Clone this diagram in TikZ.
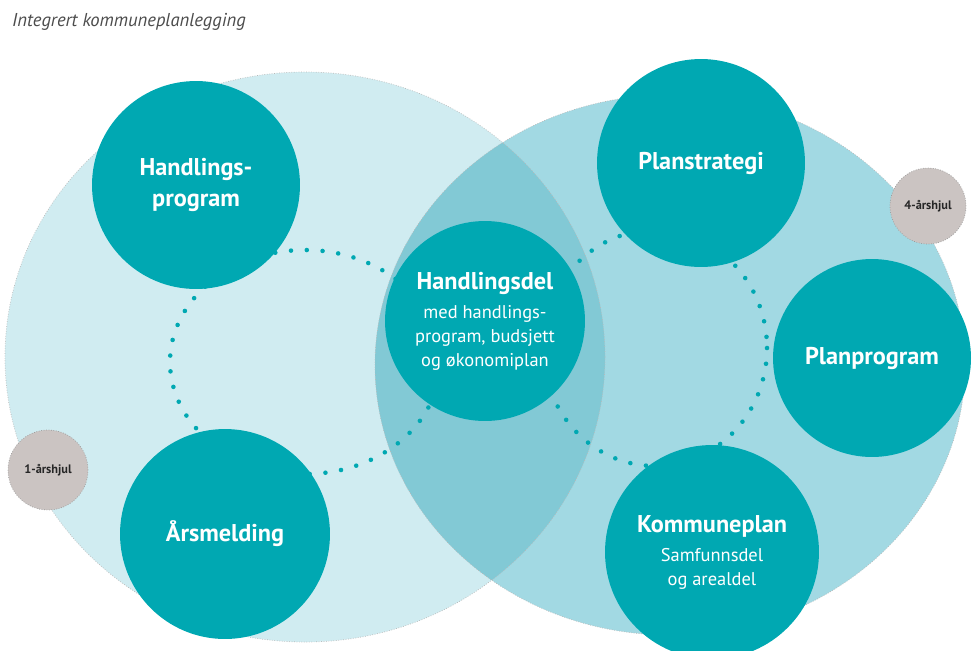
\documentclass[tikz,border=0pt]{standalone}
\usepackage{fontspec}
\setmainfont{PT Sans}
\usetikzlibrary{positioning}

\definecolor{kteal}{RGB}{0,168,178}
\definecolor{kleft}{RGB}{208,236,241}
\definecolor{kright}{RGB}{162,217,227}
\definecolor{klens}{RGB}{130,201,213}
\definecolor{kgray}{RGB}{203,196,194}
\newcommand{\subline}{\mdseries\fontsize{10.5}{13.6}\selectfont}

\begin{document}
\begin{tikzpicture}
[x=0.02cm,y=-0.02cm,
 plan/.style={circle,fill=kteal,text=white,align=center,inner sep=0pt,
   font=\bfseries\fontsize{13.8}{13.6}\selectfont},
 hjul/.style={circle,fill=kgray,draw=gray!80,densely dotted,text=black!85,
   font=\bfseries\fontsize{7}{8}\selectfont,inner sep=0pt},
 ring/.style={kteal,line width=2.6pt,line cap=round,dash pattern=on 0pt off 9pt},
 rim/.style={draw=gray!55,densely dotted,line width=0.4pt}]

  \fill[white] (0,0) rectangle (972,650);
  \useasboundingbox (0,0) rectangle (972,650);

  \node[anchor=west,font=\itshape\fontsize{10.6}{12}\selectfont,text=black!70] (title) at (6,22) {Integrert kommuneplanlegging};

  % the two wheels
  \fill[kleft] (305,357) ellipse [x radius=300, y radius=285];
  \fill[kright] (670,365) ellipse [x radius=295, y radius=270];
  \begin{scope}
    \clip (305,357) ellipse [x radius=300, y radius=285];
    \fill[klens] (670,365) ellipse [x radius=295, y radius=270];
  \end{scope}
  \draw[rim] (305,357) ellipse [x radius=300, y radius=285];
  \draw[rim] (670,365) ellipse [x radius=295, y radius=270];

  % dotted rings
  \draw[ring] (305,362) ellipse [x radius=135, y radius=112];
  \draw[ring] (655,348) ellipse [x radius=112, y radius=118];

  \node[plan,minimum size=4.16cm,font=\bfseries\fontsize{13.8}{18}\selectfont] (hprog) at (196,185) {Handlings-\\program};
  \node[plan,minimum size=4.2cm] (aars) at (225,534) {Årsmelding};
  \node[plan,minimum size=4.0cm] (hdel) at (485,321)
    {Handlingsdel\\[3pt]{\subline med handlings-}\\{\subline program, budsjett}\\{\subline og økonomiplan}};
  \node[plan,minimum size=4.16cm] (pstrat) at (701,163) {Planstrategi};
  \node[plan,minimum size=3.96cm] (pprog) at (872,358) {Planprogram};
  \node[plan,minimum size=4.28cm] (kplan) at (712,552)
    {Kommuneplan\\[3pt]{\subline Samfunnsdel}\\{\subline og arealdel}};

  \node[hjul,minimum size=1.52cm] (fire) at (928,206) {4-årshjul};
  \node[hjul,minimum size=1.6cm] (en) at (48,470) {1-årshjul};

\end{tikzpicture}
\end{document}
